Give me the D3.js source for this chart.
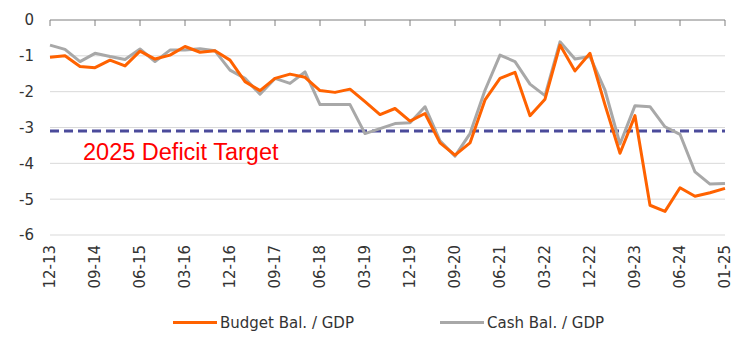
<!DOCTYPE html>
<html>
<head>
<meta charset="utf-8">
<script src="https://cdn.jsdelivr.net/npm/d3@7"></script>
<style>
  body { margin: 0; background: #fff; }
  text { font-family: "DejaVu Sans", sans-serif; }
</style>
</head>
<body>
<svg id="chart" width="744" height="343"></svg>
<script>
// quarterly periods, last point is Jan 2025
let periods = [
    "12-13", "03-14", "06-14", "09-14", "12-14", "03-15", "06-15", "09-15",
    "12-15", "03-16", "06-16", "09-16", "12-16", "03-17", "06-17", "09-17",
    "12-17", "03-18", "06-18", "09-18", "12-18", "03-19", "06-19", "09-19",
    "12-19", "03-20", "06-20", "09-20", "12-20", "03-21", "06-21", "09-21",
    "12-21", "03-22", "06-22", "09-22", "12-22", "03-23", "06-23", "09-23",
    "12-23", "03-24", "06-24", "09-24", "12-24", "01-25"
];

let budgetBal = [
    -1.04, -1.00, -1.30, -1.33, -1.12, -1.28, -0.87, -1.09, -0.98, -0.74,
    -0.90, -0.86, -1.12, -1.72, -1.97, -1.63, -1.51, -1.60, -1.97, -2.02,
    -1.93, -2.28, -2.64, -2.47, -2.82, -2.61, -3.43, -3.77, -3.43, -2.23,
    -1.63, -1.46, -2.67, -2.21, -0.70, -1.42, -0.93, -2.37, -3.72, -2.67,
    -5.17, -5.34, -4.68, -4.92, -4.82, -4.70
];

let cashBal = [
    -0.70, -0.82, -1.16, -0.93, -1.02, -1.10, -0.81, -1.16, -0.84, -0.84,
    -0.80, -0.86, -1.40, -1.63, -2.07, -1.63, -1.77, -1.45, -2.36, -2.36,
    -2.36, -3.17, -3.03, -2.89, -2.87, -2.42, -3.37, -3.80, -3.17, -1.96,
    -0.98, -1.16, -1.79, -2.11, -0.61, -1.09, -1.02, -1.96, -3.46, -2.39,
    -2.42, -2.98, -3.19, -4.24, -4.58, -4.56
];

let yTicks = [0, -1, -2, -3, -4, -5, -6];
let deficitTarget = -3.1;
let seriesNames = ["Budget Bal. / GDP", "Cash Bal. / GDP"];
let seriesColors = ["#FF6200", "#A8A8A8"];

let margin = { top: 20, left: 50, right: 19, bottom: 108 };
let width = 744, height = 343;

let svg = d3.select("#chart");

let x = d3.scalePoint()
    .domain(periods)
    .range([margin.left, width - margin.right]);

let y = d3.scaleLinear()
    .domain([-6, 0])
    .range([height - margin.bottom, margin.top]);

// gridlines
svg.append("g")
    .selectAll("line")
    .data(yTicks.filter(d => d !== 0))
    .enter()
    .append("line")
    .attr("x1", margin.left)
    .attr("x2", width - margin.right)
    .attr("y1", d => y(d))
    .attr("y2", d => y(d))
    .attr("stroke", "#d9d9d9")
    .attr("stroke-width", 1);

// y labels
svg.append("g")
    .selectAll("text")
    .data(yTicks)
    .enter()
    .append("text")
    .attr("x", 34)
    .attr("y", d => y(d))
    .attr("dy", "0.36em")
    .attr("text-anchor", "end")
    .attr("font-size", 15)
    .attr("fill", "#333")
    .text(d => d);

// x axis sits at zero, labels at the bottom
let labelPeriods = periods.filter((d, i) => i % 3 === 0);

svg.append("line")
    .attr("x1", margin.left)
    .attr("x2", width - margin.right)
    .attr("y1", y(0))
    .attr("y2", y(0))
    .attr("stroke", "#7f7f7f")
    .attr("stroke-width", 1);

svg.append("g")
    .selectAll("line")
    .data(labelPeriods)
    .enter()
    .append("line")
    .attr("x1", d => x(d))
    .attr("x2", d => x(d))
    .attr("y1", y(0))
    .attr("y2", y(0) + 6)
    .attr("stroke", "#7f7f7f")
    .attr("stroke-width", 1);

svg.append("g")
    .selectAll("text")
    .data(labelPeriods)
    .enter()
    .append("text")
    .attr("transform", d => "translate(" + (x(d) + 5) + "," + 245 + ") rotate(-90)")
    .attr("text-anchor", "end")
    .attr("font-size", 15)
    .attr("fill", "#333")
    .text(d => d);

// deficit target
svg.append("line")
    .attr("x1", margin.left)
    .attr("x2", width - margin.right)
    .attr("y1", y(deficitTarget))
    .attr("y2", y(deficitTarget))
    .attr("stroke", "#4B4B9B")
    .attr("stroke-width", 3)
    .attr("stroke-dasharray", "9,5");

svg.append("text")
    .attr("x", 83)
    .attr("y", 160)
    .style("font-family", "'Liberation Sans', Arial, sans-serif")
    .attr("font-size", 23.5)
    .attr("fill", "#FF0000")
    .text("2025 Deficit Target");

// lines
let line = d3.line()
    .x((d, i) => x(periods[i]))
    .y(d => y(d));

[cashBal, budgetBal].forEach(function(vals, k) {
    svg.append("path")
        .datum(vals)
        .attr("fill", "none")
        .attr("stroke", k === 0 ? seriesColors[1] : seriesColors[0])
        .attr("stroke-width", 3)
        .attr("stroke-linejoin", "round")
        .attr("d", line);
});

// legend
let legendX = [173, 440];
svg.append("g")
    .selectAll("g")
    .data(seriesNames)
    .enter()
    .append("g")
    .each(function(d, i) {
        let elem = d3.select(this);
        elem.append("line")
            .attr("x1", legendX[i])
            .attr("x2", legendX[i] + 44)
            .attr("y1", 322.5)
            .attr("y2", 322.5)
            .attr("stroke", seriesColors[i])
            .attr("stroke-width", 3);
        elem.append("text")
            .attr("x", legendX[i] + 47)
            .attr("y", 328)
            .attr("font-size", 15)
            .attr("fill", "#333")
            .text(d);
    });
</script>
</body>
</html>
